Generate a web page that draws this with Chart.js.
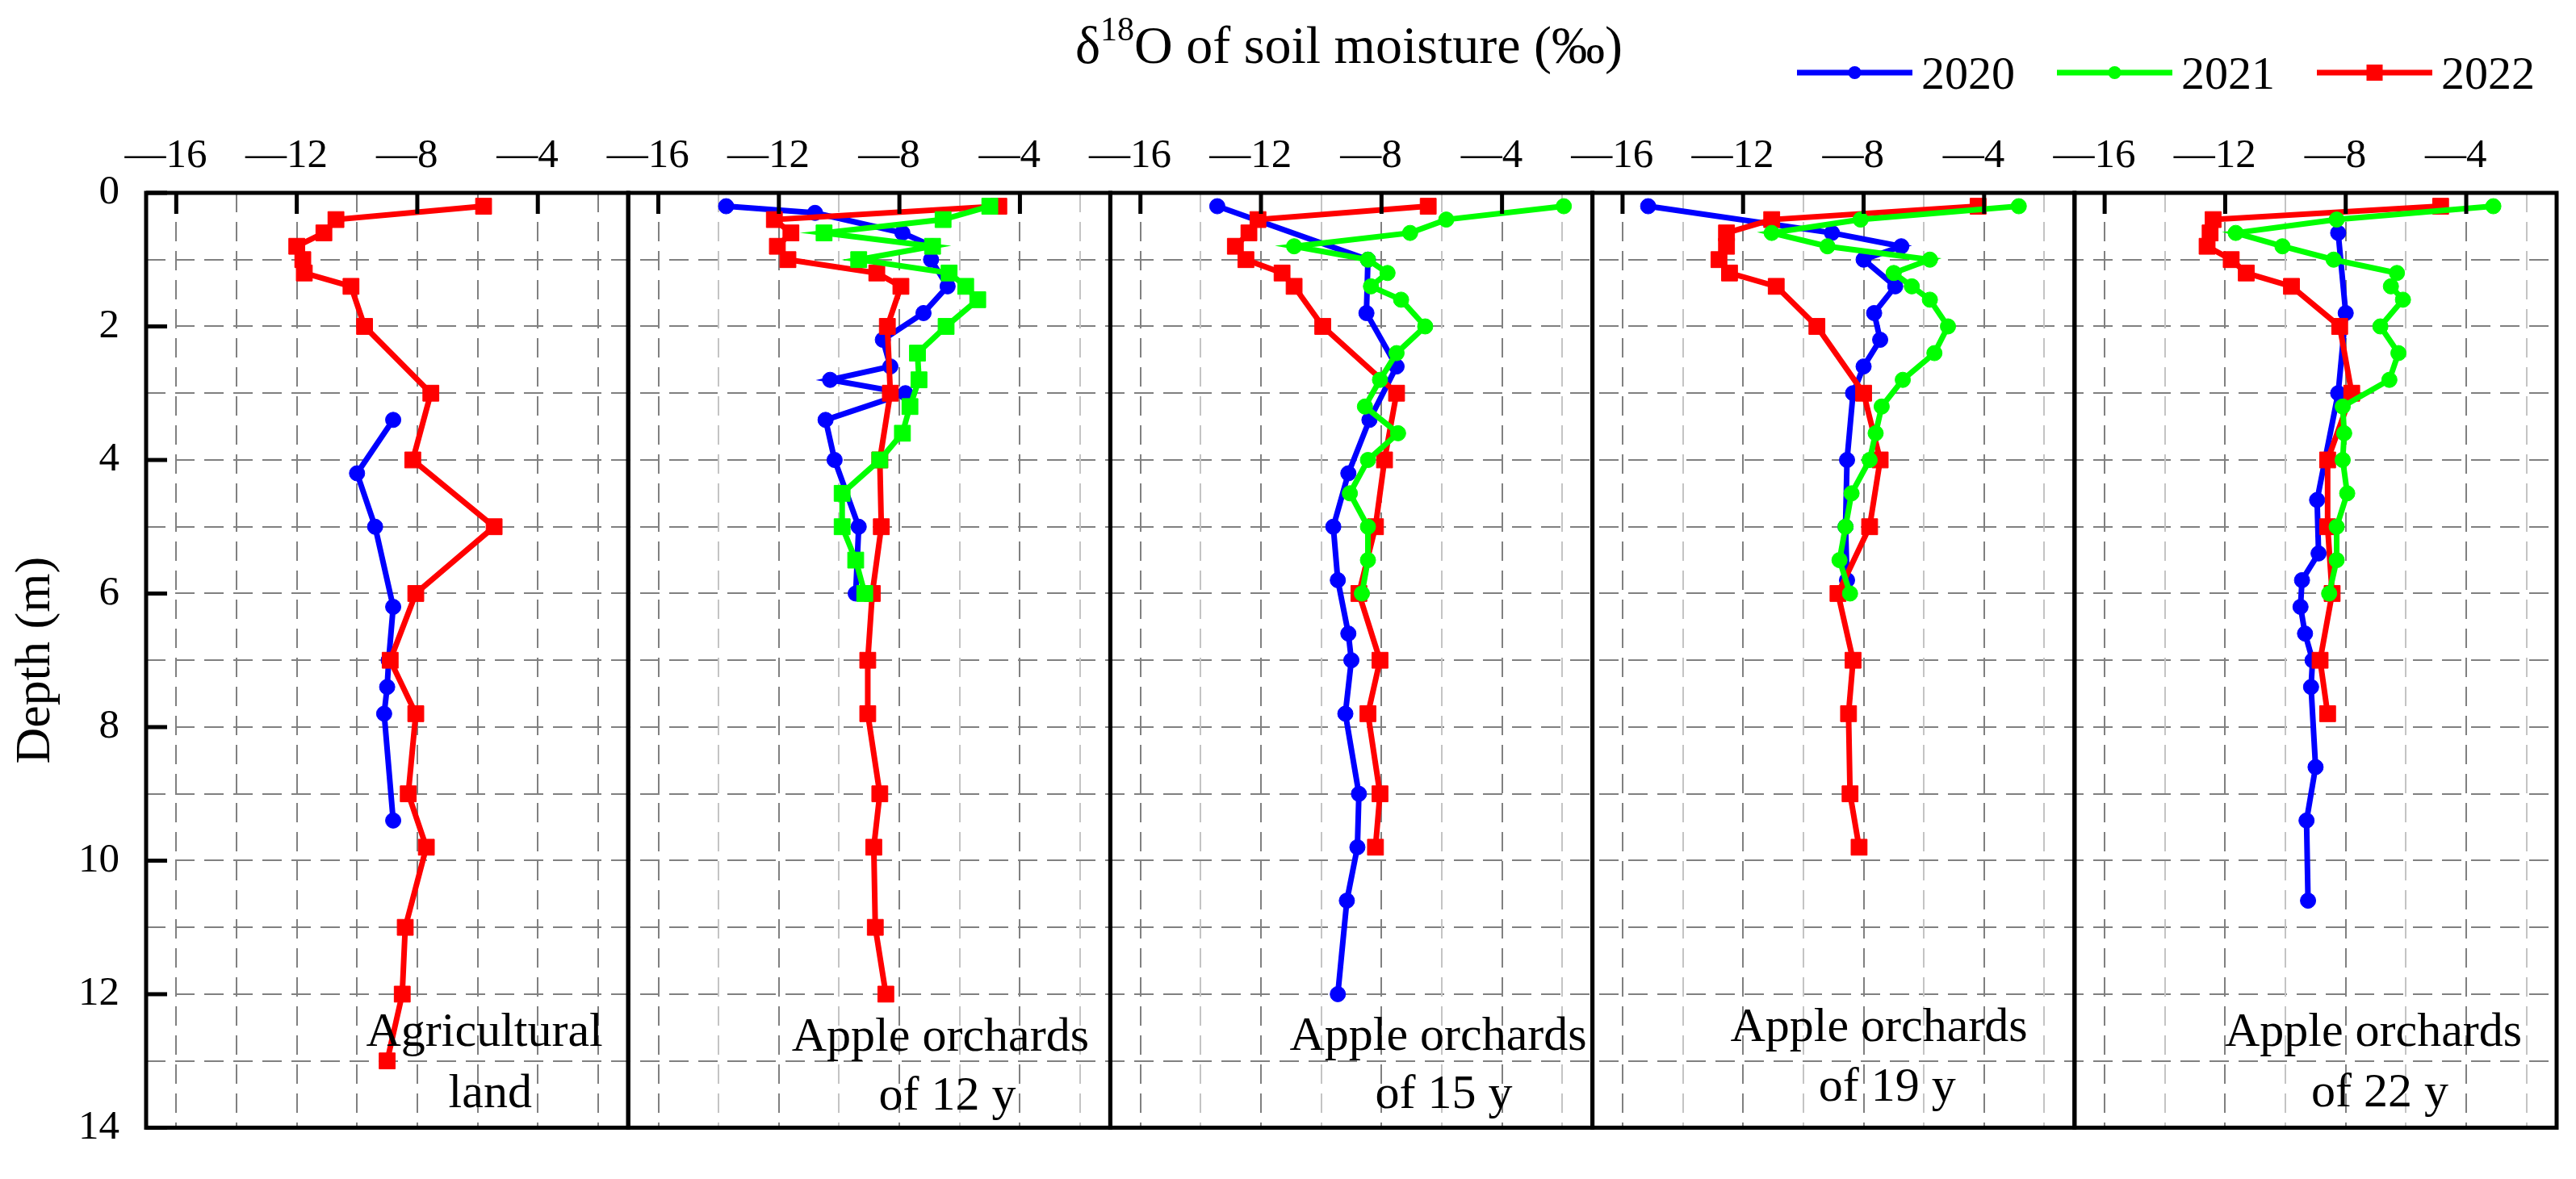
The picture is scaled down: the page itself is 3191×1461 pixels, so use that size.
<!DOCTYPE html>
<html>
<head>
<meta charset="utf-8">
<title>δ18O of soil moisture</title>
<script src="https://cdn.jsdelivr.net/npm/chart.js@4.4.1/dist/chart.umd.min.js"></script>
<style>
  html, body { margin: 0; padding: 0; background: #fff; }
  #wrap { width: 3191px; height: 1461px; }
</style>
</head>
<body>
<div id="wrap"><canvas id="myChart" width="3191" height="1461"></canvas></div>
<script>
// panels (label lines) and years
const panelNames = [['Agricultural', 'land'], ['Apple orchards', 'of 12 y'], ['Apple orchards', 'of 15 y'],
                    ['Apple orchards', 'of 19 y'], ['Apple orchards', 'of 22 y']];
const years = ['2020', '2021', '2022'];

// tick values
const xTickLabels = [-16, -12, -8, -4];
const xGridValues = [-16, -14, -12, -10, -8, -6, -4, -2];
const depthTicks = [0, 2, 4, 6, 8, 10, 12, 14];
const depthGrid = [0, 1, 2, 3, 4, 5, 6, 7, 8, 9, 10, 11, 12, 13, 14];

// agricultural land
const agr2020Depth = [3.4, 4.2, 5.0, 6.2, 7.0, 7.4, 7.8, 9.4];
const agr2020Value = [-8.8, -10.0, -9.4, -8.8, -8.95, -9.0, -9.1, -8.8];
const agr2022Depth = [0.2, 0.4, 0.6, 0.8, 1.0, 1.2, 1.4, 2, 3, 4, 5, 6, 7, 7.8, 9, 9.8, 11, 12, 13];
const agr2022Value = [-5.8, -10.7, -11.1, -12.0, -11.8, -11.75, -10.2, -9.75, -7.55, -8.15, -5.45, -8.05, -8.9, -8.05, -8.3, -7.7, -8.4, -8.5, -9.0];

// apple orchards of 12 y
const ap12_2020Depth = [0.2, 0.3, 0.6, 0.8, 1.0, 1.4, 1.8, 2.2, 2.6, 2.8, 3.0, 3.4, 4.0, 5.0, 6.0];
const ap12_2020Value = [-13.75, -10.8, -7.9, -6.9, -6.95, -6.4, -7.2, -8.55, -8.3, -10.3, -7.8, -10.45, -10.15, -9.35, -9.45];
const ap12_2021Depth = [0.2, 0.4, 0.6, 0.8, 1.0, 1.2, 1.4, 1.6, 2.0, 2.4, 2.8, 3.2, 3.6, 4.0, 4.5, 5.0, 5.5, 6.0];
const ap12_2021Value = [-5.0, -6.55, -10.5, -6.9, -9.35, -6.35, -5.8, -5.4, -6.45, -7.4, -7.35, -7.65, -7.9, -8.65, -9.9, -9.9, -9.45, -9.15];
const ap12_2022Depth = [0.2, 0.4, 0.6, 0.8, 1.0, 1.2, 1.4, 2, 3, 4, 5, 6, 7, 7.8, 9, 9.8, 11, 12];
const ap12_2022Value = [-4.7, -12.15, -11.6, -12.05, -11.7, -8.75, -7.95, -8.4, -8.3, -8.65, -8.6, -8.9, -9.05, -9.05, -8.65, -8.85, -8.8, -8.45];

// apple orchards of 15 y
const ap15_2020Depth = [0.2, 1.0, 1.8, 2.6, 3.4, 4.2, 5.0, 5.8, 6.6, 7.0, 7.8, 9.0, 9.8, 10.6, 12.0];
const ap15_2020Value = [-13.45, -8.45, -8.5, -7.5, -8.4, -9.1, -9.6, -9.45, -9.1, -9.0, -9.2, -8.75, -8.8, -9.15, -9.45];
const ap15_2021Depth = [0.2, 0.4, 0.6, 0.8, 1.0, 1.2, 1.4, 1.6, 2.0, 2.4, 2.8, 3.2, 3.6, 4.0, 4.5, 5.0, 5.5, 6.0];
const ap15_2021Value = [-1.95, -5.85, -7.05, -10.9, -8.45, -7.8, -8.35, -7.35, -6.55, -7.5, -8.05, -8.55, -7.45, -8.45, -9.05, -8.45, -8.45, -8.65];
const ap15_2022Depth = [0.2, 0.4, 0.6, 0.8, 1.0, 1.2, 1.4, 2, 3, 4, 5, 6, 7, 7.8, 9, 9.8];
const ap15_2022Value = [-6.45, -12.1, -12.4, -12.85, -12.5, -11.3, -10.9, -9.95, -7.5, -7.9, -8.2, -8.75, -8.05, -8.45, -8.05, -8.2];

// apple orchards of 19 y
const ap19_2020Depth = [0.2, 0.6, 0.8, 1.0, 1.4, 1.8, 2.2, 2.6, 3.0, 4.0, 5.0, 5.8];
const ap19_2020Value = [-15.15, -9.05, -6.75, -8.0, -6.95, -7.65, -7.45, -8.0, -8.35, -8.55, -8.6, -8.55];
const ap19_2021Depth = [0.2, 0.4, 0.6, 0.8, 1.0, 1.2, 1.4, 1.6, 2.0, 2.4, 2.8, 3.2, 3.6, 4.0, 4.5, 5.0, 5.5, 6.0];
const ap19_2021Value = [-2.85, -8.1, -11.05, -9.2, -5.8, -7.0, -6.4, -5.8, -5.2, -5.65, -6.7, -7.4, -7.6, -7.8, -8.4, -8.6, -8.8, -8.45];
const ap19_2022Depth = [0.2, 0.4, 0.6, 0.8, 1.0, 1.2, 1.4, 2, 3, 4, 5, 6, 7, 7.8, 9, 9.8];
const ap19_2022Value = [-4.2, -11.05, -12.55, -12.55, -12.8, -12.45, -10.9, -9.55, -8.0, -7.45, -7.8, -8.85, -8.35, -8.5, -8.45, -8.15];

// apple orchards of 22 y
const ap22_2020Depth = [0.6, 1.8, 3.0, 4.6, 5.4, 5.8, 6.2, 6.6, 7.0, 7.4, 8.6, 9.4, 10.6];
const ap22_2020Value = [-8.25, -8.0, -8.25, -8.95, -8.9, -9.45, -9.5, -9.35, -9.1, -9.15, -9.0, -9.3, -9.25];
const ap22_2021Depth = [0.2, 0.4, 0.6, 0.8, 1.0, 1.2, 1.4, 1.6, 2.0, 2.4, 2.8, 3.2, 3.6, 4.0, 4.5, 5.0, 5.5, 6.0];
const ap22_2021Value = [-3.1, -8.3, -11.65, -10.1, -8.4, -6.3, -6.5, -6.1, -6.85, -6.25, -6.55, -8.1, -8.05, -8.1, -7.95, -8.3, -8.3, -8.55];
const ap22_2022Depth = [0.2, 0.4, 0.6, 0.8, 1.0, 1.2, 1.4, 2, 3, 4, 5, 6, 7, 7.8];
const ap22_2022Value = [-4.85, -12.4, -12.5, -12.6, -11.8, -11.3, -9.8, -8.2, -7.8, -8.6, -8.6, -8.45, -8.85, -8.6];

// [panel, year index, depths, values]
const series = [
  [0, 0, agr2020Depth, agr2020Value], [0, 2, agr2022Depth, agr2022Value],
  [1, 0, ap12_2020Depth, ap12_2020Value], [1, 1, ap12_2021Depth, ap12_2021Value], [1, 2, ap12_2022Depth, ap12_2022Value],
  [2, 0, ap15_2020Depth, ap15_2020Value], [2, 1, ap15_2021Depth, ap15_2021Value], [2, 2, ap15_2022Depth, ap15_2022Value],
  [3, 0, ap19_2020Depth, ap19_2020Value], [3, 1, ap19_2021Depth, ap19_2021Value], [3, 2, ap19_2022Depth, ap19_2022Value],
  [4, 0, ap22_2020Depth, ap22_2020Value], [4, 1, ap22_2021Depth, ap22_2021Value], [4, 2, ap22_2022Depth, ap22_2022Value]
];

const SERIF = "'Liberation Serif', 'Times New Roman', serif";
const yearColors = ['#0000ff', '#00ff00', '#ff0000'];
const yearOrder = [2, 0, 1];   // green on top, then red, then blue

function markerStyle(panel, year) {
  if (year === 2 || (year === 1 && panel === 1)) return {pointStyle: 'rect', pointRadius: 14};
  return {pointStyle: 'circle', pointRadius: 9.5};
}

const datasets = series.map(([panel, year, depth, value]) => Object.assign({
  label: years[year],
  xAxisID: 'x' + panel,
  yAxisID: 'y',
  data: depth.map((d, i) => ({x: value[i], y: d})),
  showLine: true,
  borderColor: yearColors[year],
  backgroundColor: yearColors[year],
  pointBorderColor: yearColors[year],
  pointBackgroundColor: yearColors[year],
  borderWidth: 7,
  pointBorderWidth: 1,
  tension: 0,
  order: yearOrder[year]
}, markerStyle(panel, year)));

function gridColor(panel, v) {
  if (panel === 0 || xTickLabels.includes(v)) return '#808080';
  return '#c4c4c4';
}

const scales = {
  y: {
    type: 'linear', reverse: true, min: 0, max: 14,
    afterFit: s => { s.width = 181; },
    afterBuildTicks: s => { s.ticks = depthGrid.map(v => ({value: v})); },
    ticks: {autoSkip: false, padding: 33, color: '#000', font: {family: SERIF, size: 51},
            callback: v => depthTicks.includes(v) ? String(v) : ''},
    grid: {drawTicks: false, lineWidth: 2, color: '#808080'},
    border: {display: false, dash: [24, 12]},
    title: {display: true, text: 'Depth (m)', color: '#000', font: {family: SERIF, size: 62}, padding: {top: 8, bottom: 0}}
  }
};
// top boxes are laid out in reverse order, so add the last panel first
for (let p = panelNames.length - 1; p >= 0; p--) {
  scales['x' + p] = {
    type: 'linear', position: 'top', stack: 'panels', stackWeight: 1,
    min: -17, max: -1,
    afterFit: s => { s.height = 239; },
    afterBuildTicks: s => { s.ticks = xGridValues.map(v => ({value: v})); },
    ticks: {autoSkip: false, maxRotation: 0, padding: 15, color: '#000', font: {family: SERIF, size: 51},
            callback: v => xTickLabels.includes(v) ? '\u2014' + Math.abs(v) + '\u2002' : ''},
    grid: {drawTicks: false, lineWidth: 2, color: ctx => gridColor(p, ctx.tick ? ctx.tick.value : 0)},
    border: {display: false, dash: [24, 12]}
  };
}

// panel frames + inward ticks
const frame = {
  id: 'frame',
  afterDraw(chart) {
    const {ctx, chartArea: a} = chart;
    const ys = chart.scales.y;
    ctx.save();
    ctx.strokeStyle = '#000';
    ctx.lineWidth = 5;
    ctx.setLineDash([]);
    for (let p = 0; p < panelNames.length; p++) {
      const s = chart.scales['x' + p];
      ctx.beginPath();
      xTickLabels.forEach(v => {
        const px = s.getPixelForValue(v);
        ctx.moveTo(px, a.top);
        ctx.lineTo(px, a.top + 26);
      });
      ctx.stroke();
      ctx.strokeRect(s.left, a.top, s.right - s.left, a.bottom - a.top);
    }
    ctx.beginPath();
    depthTicks.forEach(v => {
      const py = ys.getPixelForValue(v);
      ctx.moveTo(a.left, py);
      ctx.lineTo(a.left + 26, py);
    });
    ctx.stroke();
    ctx.restore();
  }
};

// panel captions, placed in data units of each panel
const captionPos = [
  [[-5.77, 12.78], [-5.58, 13.69]],
  [[-6.64, 12.85], [-6.41, 13.73]],
  [[-6.12, 12.84], [-5.93, 13.70]],
  [[-7.49, 12.70], [-7.22, 13.60]],
  [[-7.08, 12.77], [-6.87, 13.68]]
];
const captions = {
  id: 'captions',
  afterDraw(chart) {
    const {ctx} = chart;
    const ys = chart.scales.y;
    ctx.save();
    ctx.fillStyle = '#000';
    ctx.font = '60px ' + SERIF;
    ctx.textAlign = 'center';
    ctx.textBaseline = 'alphabetic';
    panelNames.forEach((lines, p) => {
      const s = chart.scales['x' + p];
      lines.forEach((t, i) => {
        const [vx, vy] = captionPos[p][i];
        ctx.fillText(t, s.getPixelForValue(vx), ys.getPixelForValue(vy));
      });
    });
    ctx.restore();
  }
};

// main title with superscript and the line+marker legend
const header = {
  id: 'header',
  afterDraw(chart) {
    const {ctx} = chart;
    ctx.save();
    ctx.fillStyle = '#000';
    ctx.textBaseline = 'alphabetic';
    ctx.textAlign = 'left';
    const big = '66px ' + SERIF, small = '42px ' + SERIF;
    const parts = [['\u03b4', big, 0], ['18', small, -28], ['O of soil moisture (\u2030)', big, 0]];
    let w = 0;
    parts.forEach(([t, f]) => { ctx.font = f; w += ctx.measureText(t).width; });
    let x = 1671 - w / 2;
    parts.forEach(([t, f, dy]) => { ctx.font = f; ctx.fillText(t, x, 78 + dy); x += ctx.measureText(t).width; });

    // legend
    const legY = 90, lineLen = 143, pitch = 322;
    years.forEach((yr, i) => {
      const x0 = 2226 + i * pitch;
      ctx.strokeStyle = yearColors[i];
      ctx.fillStyle = yearColors[i];
      ctx.lineWidth = 7;
      ctx.beginPath();
      ctx.moveTo(x0, legY);
      ctx.lineTo(x0 + lineLen, legY);
      ctx.stroke();
      const cx = x0 + lineLen / 2;
      if (i === 2) {
        ctx.fillRect(cx - 10, legY - 10, 20, 20);
      } else {
        ctx.beginPath();
        ctx.arc(cx, legY, 8, 0, Math.PI * 2);
        ctx.fill();
      }
      ctx.fillStyle = '#000';
      ctx.font = '58px ' + SERIF;
      ctx.fillText(yr, x0 + lineLen + 11, 109.5);
    });
    ctx.restore();
  }
};

const myChart = new Chart(document.getElementById('myChart').getContext('2d'), {
  type: 'scatter',
  data: {datasets: datasets},
  options: {
    responsive: false,
    animation: false,
    devicePixelRatio: 1,
    layout: {padding: {top: 0, left: 0, right: 24, bottom: 30}},
    plugins: {legend: {display: false}, title: {display: false}, tooltip: {enabled: false}},
    scales: scales
  },
  plugins: [frame, captions, header]
});
</script>
</body>
</html>
